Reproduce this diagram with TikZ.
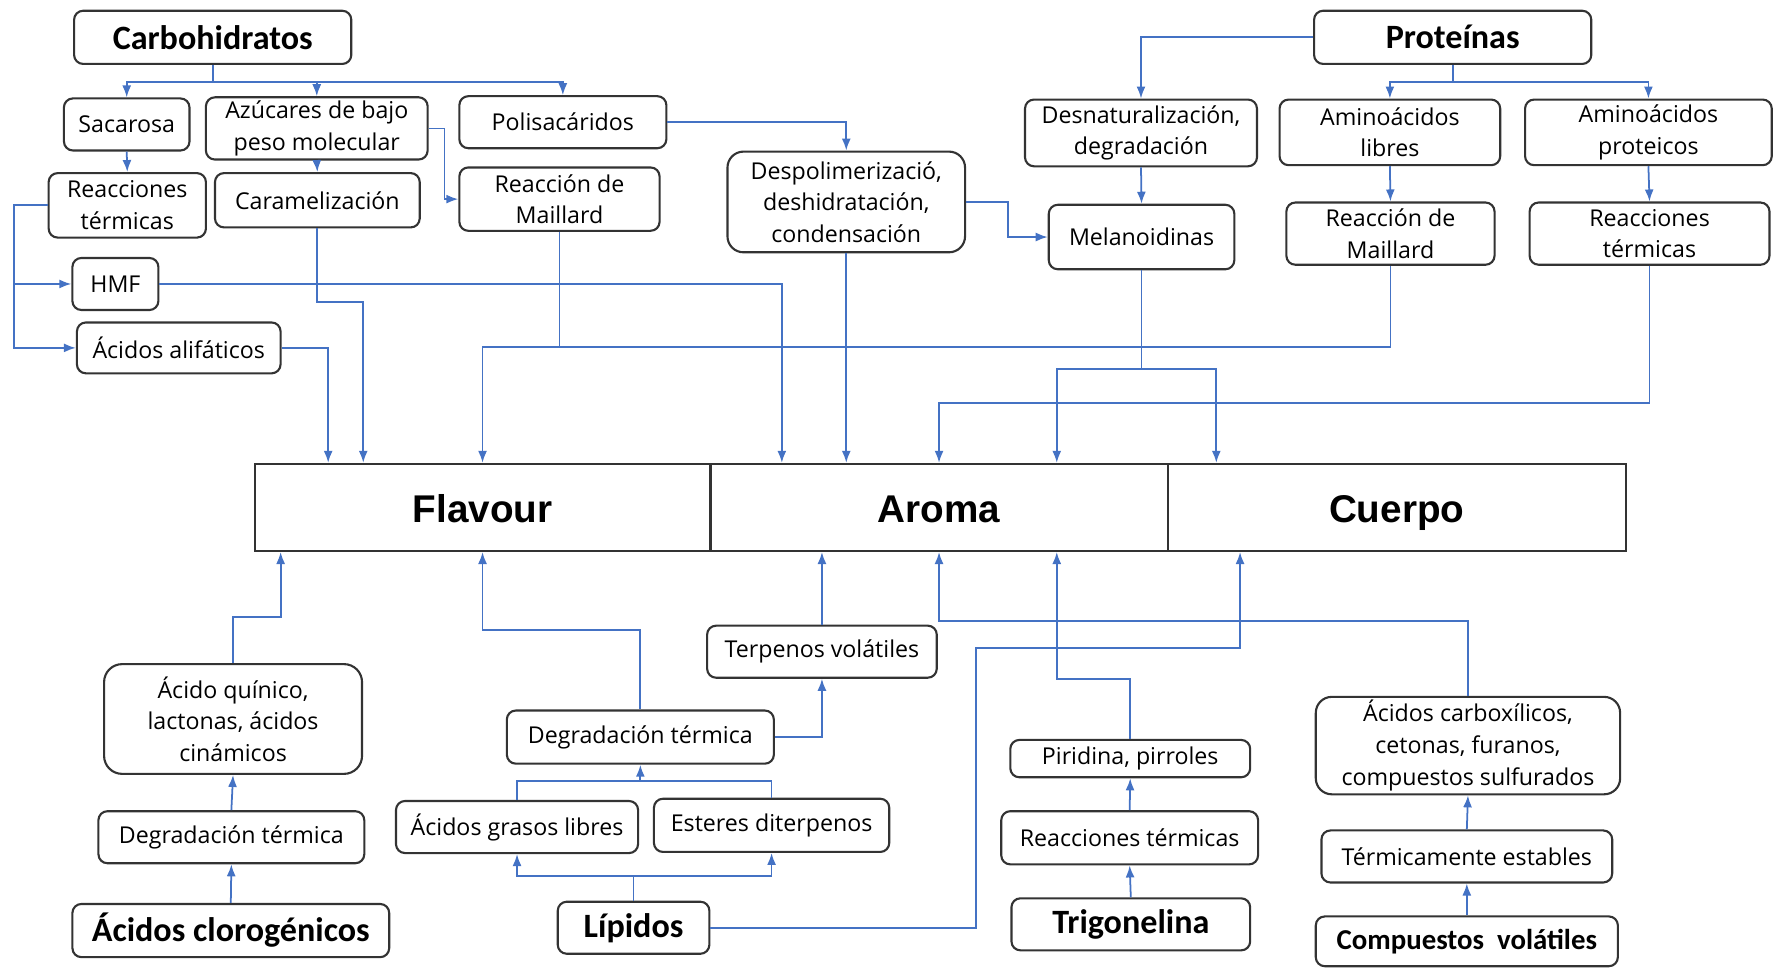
\documentclass[tikz,border=0pt]{standalone}
\usepackage{fontspec}
\setmainfont{Open Sans}
\newfontfamily\calibri{Carlito}
\newfontfamily\arial{Liberation Sans}
\usetikzlibrary{arrows.meta, calc}

\definecolor{linkblue}{HTML}{4472C4}

\tikzset{
  wh/.style 2 args={minimum width=#1*0.11314mm, minimum height=#2*0.11314mm},
  box/.style={draw=black!80, line width=0.6pt, rounded corners=0.9mm, align=center, inner sep=1pt,
              font=\fontsize{6.6}{9}\selectfont},
  title/.style={box, font=\calibri\bfseries\fontsize{9.7}{11}\selectfont},
  part/.style={draw=black!80, line width=0.6pt, inner sep=1pt, text height=8.6pt, text depth=0pt,
               font=\arial\bfseries\fontsize{11}{13}\selectfont},
  line/.style={draw=linkblue, line width=0.5pt},
  link/.style={line, -{Latex[length=1.2mm, width=0.9mm]}}
}

\begin{document}
\begin{tikzpicture}[x=0.11314mm, y=-0.11314mm]
\useasboundingbox (0,0) rectangle (1568,855);

% draw flavour, aroma and body
\node[part, wh={403}{77}] (flav)   at (426.5, 448.5) {Flavour};
\node[part, wh={404}{77}] (aroma)  at (830, 448.5)   {Aroma};
\node[part, wh={405}{77}] (cuerpo) at (1234.5, 448.5) {Cuerpo};

% draw carbohydrate nodes
\node[title, wh={245}{47}] (carb)  at (188, 33)     {Carbohidratos};
\node[box, wh={111}{46}]   (sac)   at (112, 110)    {Sacarosa};
\node[box, wh={196}{55}]   (azu)   at (280, 113.5)  {Azúcares de bajo\\peso molecular};
\node[box, wh={183}{46}]   (poli)  at (497.5, 108)  {Polisacáridos};
\node[box, wh={139}{57}]   (rtL)   at (112.5, 181.5) {Reacciones\\térmicas};
\node[box, wh={181}{48}]   (caram) at (280.5, 177)  {Caramelización};
\node[box, wh={177}{56}]   (mailL) at (494.5, 176)  {Reacción de\\Maillard};
\node[box, wh={210}{89}, rounded corners=1.6mm] (desp) at (748, 178.5) {Despolimerizació,\\deshidratación,\\condensación};
\node[box, wh={76}{46}]    (hmf)   at (102, 251)    {HMF};
\node[box, wh={180}{45}]   (alif)  at (158, 307.5)  {Ácidos alifáticos};

% draw protein nodes
\node[title, wh={245}{47}] (prot)  at (1284, 33)     {Proteínas};
\node[box, wh={205}{59}]   (desn)  at (1008.5, 117.5) {Desnaturalización,\\degradación};
\node[box, wh={195}{58}]   (amL)   at (1228.5, 117)  {Aminoácidos\\libres};
\node[box, wh={218}{58}]   (amP)   at (1457, 117)    {Aminoácidos\\proteicos};
\node[box, wh={164}{57}]   (melan) at (1009, 209.5)  {Melanoidinas};
\node[box, wh={184}{55}]   (mailR) at (1229, 206.5)  {Reacción de\\Maillard};
\node[box, wh={212}{55}]   (rtR)   at (1458, 206.5)  {Reacciones\\térmicas};

% draw lower nodes
\node[box, wh={228}{97}, rounded corners=1.8mm] (quin) at (206, 635.5) {Ácido quínico,\\lactonas, ácidos\\cinámicos};
\node[box, wh={235}{46}]   (degL)  at (204.5, 740)   {Degradación térmica};
\node[title, wh={280}{47}] (clor)  at (204, 822.5)   {Ácidos clorogénicos};
\node[box, wh={203}{46}]   (terp)  at (726.5, 576)   {Terpenos volátiles};
\node[box, wh={236}{47}]   (degM)  at (566, 651.5)   {Degradación térmica};
\node[box, wh={214}{46}]   (agl)   at (457, 731)     {Ácidos grasos libres};
\node[box, wh={208}{47}]   (est)   at (682, 729.5)   {Esteres diterpenos};
\node[title, wh={134}{46}] (lip)   at (560, 820)     {Lípidos};
\node[box, wh={212}{33}]   (pir)   at (999, 670.5)   {Piridina, pirroles};
\node[box, wh={227}{47}]   (rtB)   at (998.5, 740.5) {Reacciones térmicas};
\node[title, wh={211}{46}] (trig)  at (999.5, 817)   {Trigonelina};
\node[box, wh={269}{84}, rounded corners=1.6mm] (carbx) at (1297.5, 659) {Ácidos carboxílicos,\\cetonas, furanos,\\compuestos sulfurados};
\node[box, wh={257}{46}]   (term)  at (1296.5, 757)  {Térmicamente estables};
\node[title, wh={267}{44}, font=\calibri\bfseries\fontsize{8.2}{10}\selectfont] (comp) at (1296.5, 832) {Compuestos\ \ volátiles};

% draw carbohydrate links
\draw[link] (carb.south) -- ++(0,15) -| (sac.north);
\draw[link] (carb.south) -- ++(0,15) -| (azu.north);
\draw[link] (carb.south) -- ++(0,15) -| (poli.north);
\draw[link] (sac.south) -- (rtL.north);
\draw[link] (azu.south) -- (caram.north);
\draw[link] (azu.east) -- ++(14,0) |- (mailL.west);
\draw[link] (poli.east) -| (desp.north);
\draw[link] (rtL.west) -- ++(-30,0) |- (hmf.west);
\draw[link] (rtL.west) -- ++(-30,0) |- (alif.west);
\draw[link] (hmf.east) -| ($(aroma.north west)+(64,0)$);
\draw[link] (alif.east) -| ($(flav.north west)+(66,0)$);
\draw[link] (caram.south) -- ++(0,65) -| ($(flav.north west)+(97,0)$);
\draw[link] (mailL.south) -- ++(0,102) coordinate (mj) -| (flav.north);
\draw[line] (mailR.south) |- (mj);
\draw[link] (desp.south) -- (desp.south |- aroma.north);
\draw[link] (desp.east) -- ++(37,0) |- (melan.west);

% draw protein links
\draw[link] (prot.west) -| (desn.north);
\draw[link] (prot.south) -- ++(0,15) -| (amL.north);
\draw[link] (prot.south) -- ++(0,15) -| (amP.north);
\draw[link] (desn.south) -- (melan.north);
\draw[link] (amL.south) -- (mailR.north);
\draw[link] (amP.south) -- (rtR.north);
\draw[link] (melan.south) -- ++(0,87) coordinate (mel) -| ($(aroma.north west)+(307,0)$);
\draw[link] (mel) -| ($(cuerpo.north west)+(44,0)$);
\draw[link] (rtR.south) -- ++(0,121) -| (aroma.north);

% draw lower links
\draw[link] (clor.north) -- (degL.south);
\draw[link] (degL.north) -- (quin.south);
\draw[link] (quin.north) -- ++(0,-41) -| ($(flav.south west)+(24,0)$);
\draw[link] (lip.north) -- ++(0,-22) coordinate (lj) -| (agl.south);
\draw[link] (lj) -| (est.south);
\draw[line] (agl.north) -- ++(0,-17) coordinate (aj) -| (est.north);
\draw[link] (aj -| degM.south) -- (degM.south);
\draw[link] (degM.north) -- ++(0,-70) -| (flav.south);
\draw[link] (degM.east) -| (terp.south);
\draw[link] (terp.north) -- (terp.north |- aroma.south);
\draw[link] (lip.east) -- ++(235,0) -- ++(0,-247) -| ($(cuerpo.south west)+(65,0)$);
\draw[link] (trig.north) -- (rtB.south);
\draw[link] (rtB.north) -- (pir.south);
\draw[link] (pir.north) -- ++(0,-53) -| ($(aroma.south west)+(307,0)$);
\draw[link] (comp.north) -- (term.south);
\draw[link] (term.north) -- (carbx.south);
\draw[link] (carbx.north) -- ++(0,-66) -| (aroma.south);

\end{tikzpicture}
\end{document}
